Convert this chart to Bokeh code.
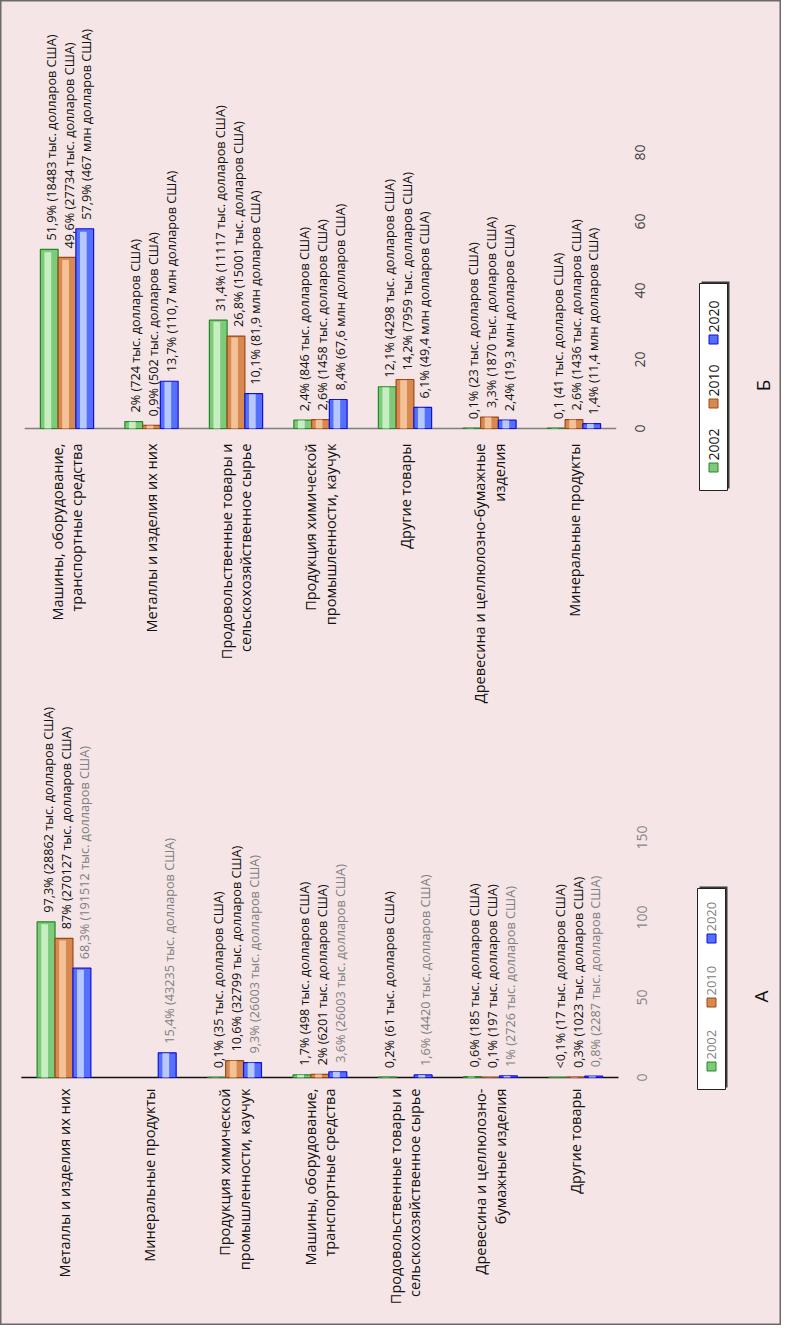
import math
import numpy as np
from bokeh.plotting import figure
from bokeh.models import Range1d, ColumnDataSource
from bokeh.core.properties import value
from bokeh.embed import file_html
from bokeh.resources import INLINE

FONT = value("Open Sans")

years = ["2002", "2010", "2020"]

# ---------------- Chart Б (top) ----------------
cats_b = [
    "Машины, оборудование,\nтранспортные средства",
    "Металлы и изделия их них",
    "Продовольственные товары и\nсельскохозяйственное сырье",
    "Продукция химической\nпромышленности, каучук",
    "Другие товары",
    "Древесина и целлюлозно-бумажные\nизделия",
    "Минеральные продукты",
]
b_2002 = [51.9, 2.0, 31.4, 2.4, 12.1, 0.1, 0.1]
b_2010 = [49.6, 0.9, 26.8, 2.6, 14.2, 3.3, 2.6]
b_2020 = [57.9, 13.7, 10.1, 8.4, 6.1, 2.4, 1.4]
lbl_b_2002 = ["51,9% (18483 тыс. долларов США)", "2% (724 тыс. долларов США)",
              "31,4% (11117 тыс. долларов США)", "2,4% (846 тыс. долларов США)",
              "12,1% (4298 тыс. долларов США)", "0,1% (23 тыс. долларов США)",
              "0,1 (41 тыс. долларов США)"]
lbl_b_2010 = ["49,6% (27734 тыс. долларов США)", "0,9% (502 тыс. долларов США)",
              "26,8% (15001 тыс. долларов США)", "2,6% (1458 тыс. долларов США)",
              "14,2% (7959 тыс. долларов США)", "3,3% (1870 тыс. долларов США)",
              "2,6% (1436 тыс. долларов США)"]
lbl_b_2020 = ["57,9% (467 млн долларов США)", "13,7% (110,7 млн долларов США)",
              "10,1% (81,9 млн долларов США)", "8,4% (67,6 млн долларов США)",
              "6,1% (49,4 млн долларов США)", "2,4% (19,3 млн долларов США)",
              "1,4% (11,4 млн долларов США)"]
ticks_b = [0, 20, 40, 60, 80]
title_b = "Б"

# ---------------- Chart А (bottom) ----------------
cats_a = [
    "Металлы и изделия их них",
    "Минеральные продукты",
    "Продукция химической\nпромышленности, каучук",
    "Машины, оборудование,\nтранспортные средства",
    "Продовольственные товары и\nсельскохозяйственное сырье",
    "Древесина и целлюлозно-\nбумажные изделия",
    "Другие товары",
]
a_2002 = [97.3, None, 0.1, 1.7, 0.2, 0.6, 0.05]
a_2010 = [87.0, None, 10.6, 2.0, None, 0.1, 0.3]
a_2020 = [68.3, 15.4, 9.3, 3.6, 1.6, 1.0, 0.8]
lbl_a_2002 = ["97,3% (28862 тыс. долларов США)", None, "0,1% (35 тыс. долларов США)",
              "1,7% (498 тыс. долларов США)", "0,2% (61 тыс. долларов США)",
              "0,6% (185 тыс. долларов США)", "<0,1% (17 тыс. долларов США)"]
lbl_a_2010 = ["87% (270127 тыс. долларов США)", None, "10,6% (32799 тыс. долларов США)",
              "2% (6201 тыс. долларов США)", None,
              "0,1% (197 тыс. долларов США)", "0,3% (1023 тыс. долларов США)"]
lbl_a_2020 = ["68,3% (191512 тыс. долларов США)", "15,4% (43235 тыс. долларов США)",
              "9,3% (26003 тыс. долларов США)", "3,6% (26003 тыс. долларов США)",
              "1,6% (4420 тыс. долларов США)", "1% (2726 тыс. долларов США)",
              "0,8% (2287 тыс. долларов США)"]
ticks_a = [0, 50, 100, 150]
title_a = "А"

# ---------------- styling / layout ----------------
W, H = 781, 1325
BG = "#F5E5E6"
FILL = ["#7DCB7A", "#D8894F", "#5570FA"]
LIGHT = ["#D2F5CC", "#F8CDA5", "#C9D6FF"]
EDGE = ["#24872A", "#9A4A16", "#1010D8"]
BAR_W = 0.21
OFFS = [-BAR_W, 0.0, BAR_W]

p = figure(width=W, height=H, output_backend="svg", toolbar_location=None,
           x_range=Range1d(0, W), y_range=Range1d(H, 0),
           x_axis_location=None, y_axis_location=None, min_border=0)
p.xgrid.visible = False
p.ygrid.visible = False
p.background_fill_color = BG
p.border_fill_color = BG
p.outline_line_color = "#6A6A6A"
p.outline_line_width = 2


def chart(name, cats, series, labels, label_colors, ticks, tick_color,
          x0, dx, y0, dy, base_color, cat_gap, tick_x,
          legend_box, legend_text_color, legend_font, title, title_xy):
    xr, yr = "x" + name, "y" + name
    p.extra_x_ranges[xr] = Range1d(-x0 / dx, (W - x0) / dx)
    p.extra_y_ranges[yr] = Range1d(-(H - y0) / dy, y0 / dy)
    idx = np.arange(len(cats), dtype=float)

    # baseline (category axis line)
    p.segment(x0=[-0.5], x1=[len(cats) - 0.5], y0=[0], y1=[0],
              line_color=base_color, line_width=1.6,
              x_range_name=xr, y_range_name=yr)

    for k, (vals, lbls) in enumerate(zip(series, labels)):
        v = np.array([np.nan if t is None else t for t in vals], dtype=float)
        xs = idx + OFFS[k]
        src = ColumnDataSource(dict(x=xs, top=v))
        p.vbar(x="x", top="top", bottom=0, width=BAR_W, source=src,
               fill_color=FILL[k], line_color=EDGE[k], line_width=1.2,
               x_range_name=xr, y_range_name=yr)
        hl = ColumnDataSource(dict(x=xs - BAR_W * 0.08, top=v * 0.985))
        p.vbar(x="x", top="top", bottom=0, width=BAR_W * 0.38, source=hl,
               fill_color=LIGHT[k], line_color=None, fill_alpha=0.85,
               x_range_name=xr, y_range_name=yr)
        keep = [i for i, t in enumerate(lbls) if t is not None]
        lsrc = ColumnDataSource(dict(x=[xs[i] + 0.02 for i in keep],
                                     y=[float(np.nan_to_num(v[i])) for i in keep],
                                     t=[lbls[i] for i in keep]))
        p.text(x="x", y="y", text="t", source=lsrc, angle=math.pi / 2,
               text_align="left", text_baseline="middle", y_offset=-9,
               text_font=FONT, text_font_size="12.7px", text_color=label_colors[k],
               x_range_name=xr, y_range_name=yr)

    # category labels
    csrc = ColumnDataSource(dict(x=idx, y=np.zeros(len(cats)), t=cats))
    p.text(x="x", y="y", text="t", source=csrc, angle=math.pi / 2,
           text_align="right", text_baseline="middle", y_offset=cat_gap,
           text_font=FONT, text_font_size="14.5px", text_color="#111111",
           text_line_height=1.03, x_range_name=xr, y_range_name=yr)

    # value tick labels (right side)
    tsrc = ColumnDataSource(dict(x=[tick_x] * len(ticks), y=ticks, t=[str(t) for t in ticks]))
    p.text(x="x", y="y", text="t", source=tsrc, angle=math.pi / 2,
           text_align="center", text_baseline="middle",
           text_font=FONT, text_font_size="14px", text_color=tick_color,
           y_range_name=yr)

    # legend (rotated)
    lx0, lx1, ly0, ly1 = legend_box
    p.quad(left=[lx0 + 2], right=[lx1 + 2], top=[ly0 - 2], bottom=[ly1 - 2],
           fill_color="#3A3A3A", line_color=None)
    p.quad(left=[lx0], right=[lx1], top=[ly0], bottom=[ly1],
           fill_color="white", line_color="#222222", line_width=1)
    cx = (lx0 + lx1) / 2
    sw_y = [ly1 - 23, ly1 - 87, ly1 - 151]
    p.rect(x=[cx] * 3, y=sw_y, width=9, height=9, width_units="screen",
           height_units="screen", fill_color=FILL, line_color=EDGE, line_width=1)
    p.text(x=[cx] * 3, y=[s - 7 for s in sw_y], text=years, angle=math.pi / 2,
           text_align="left", text_baseline="middle", text_font=FONT,
           text_font_size=legend_font, text_color=legend_text_color)

    p.text(x=[title_xy[0]], y=[title_xy[1]], text=[title], angle=math.pi / 2,
           text_align="center", text_baseline="middle", text_font=FONT,
           text_font_size="19px", text_color="#111111")


chart("b", cats_b, [b_2002, b_2010, b_2020], [lbl_b_2002, lbl_b_2010, lbl_b_2020],
      ["#111111", "#111111", "#111111"], ticks_b, "#404040",
      66.5, 84.5, 428, 3.45, "#808080", 15, 639,
      (699, 727, 283, 490), "#111111", "14px", title_b, (762, 385))

chart("a", cats_a, [a_2002, a_2010, a_2020], [lbl_a_2002, lbl_a_2010, lbl_a_2020],
      ["#111111", "#111111", "#808080"], ticks_a, "#858585",
      63.5, 85.3, 1077, 1.6, "#111111", 11, 641,
      (697, 725, 888, 1089), "#808080", "13px", title_a, (760, 996))

open("out.html", "w").write(file_html(p, INLINE))
